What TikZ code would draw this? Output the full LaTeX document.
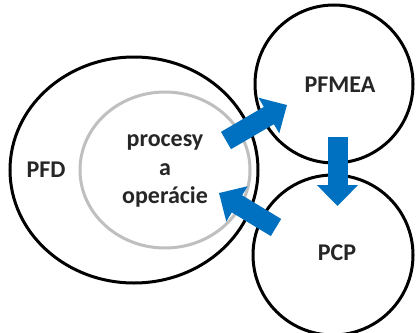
\documentclass[tikz,border=0pt]{standalone}
\usepackage{fontspec}
\setmainfont{Carlito}
\usetikzlibrary{arrows.meta}
\definecolor{flowblue}{RGB}{0,112,192}
\definecolor{ringgray}{RGB}{191,191,191}
\begin{document}
\begin{tikzpicture}[x=1pt,y=-1pt,
  ring/.style={draw=black,line width=3pt,fill=white},
  inner/.style={draw=ringgray,line width=3pt},
  lbl/.style={font=\bfseries\fontsize{24}{28.5}\selectfont,align=center,text=black!85},
  flow/.style={draw=flowblue,line width=20pt,-{Triangle[width=40pt,length=21pt]}}]
\useasboundingbox (0,0) rectangle (420,332);
% outer process-flow ellipse and the inner ring
\draw[ring] (134,170) ellipse [x radius=124,y radius=113];
\draw[inner] (165,170) ellipse [x radius=85,y radius=78];
% PFMEA and PCP circles
\draw[ring] (334,84) circle [radius=79];
\draw[ring] (333,255) circle [radius=80];
% labels
\node[lbl] (pfd) at (46,170) {PFD};
\node[lbl] (proc) at (165,171) {procesy\\a\\operácie};
\node[lbl] (pfmea) at (340,85) {PFMEA};
\node[lbl] (pcp) at (337,253) {PCP};
% flow arrows between the circles
\coordinate (t1) at (226,140.5);
\coordinate (h1) at (287,105);
\coordinate (t2) at (337.5,137);
\coordinate (h2) at (337.5,206);
\coordinate (t3) at (276,227.5);
\coordinate (h3) at (219,193);
\draw[flow] (t1) -- (h1);
\draw[flow] (t2) -- (h2);
\draw[flow] (t3) -- (h3);
\end{tikzpicture}
\end{document}
